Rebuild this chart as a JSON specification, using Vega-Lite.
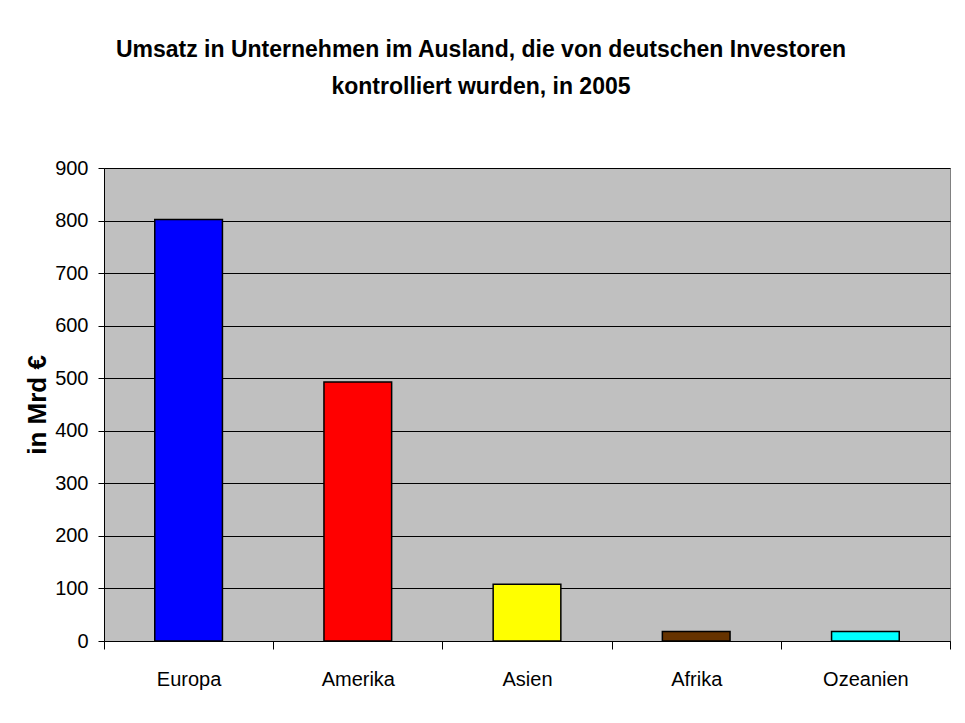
{
  "$schema": "https://vega.github.io/schema/vega-lite/v6.json",
  "width": 846,
  "height": 473,
  "autosize": {"type": "none"},
  "padding": {"left": 104, "top": 168, "right": 15, "bottom": 82},
  "background": "white",
  "title": {
    "text": ["Umsatz in Unternehmen im Ausland, die von deutschen Investoren", "kontrolliert wurden, in 2005"],
    "anchor": "middle",
    "dx": -46,
    "offset": 59,
    "fontSize": 23,
    "lineHeight": 37,
    "font": "Liberation Sans",
    "fontWeight": "bold",
    "color": "black"
  },
  "data": {
    "values": [
      {"Region": "Europa", "Umsatz": 802},
      {"Region": "Amerika", "Umsatz": 493},
      {"Region": "Asien", "Umsatz": 108},
      {"Region": "Afrika", "Umsatz": 18},
      {"Region": "Ozeanien", "Umsatz": 18}
    ]
  },
  "mark": {"type": "bar", "width": {"band": 0.4}, "stroke": "black", "strokeWidth": 1.5},
  "encoding": {
    "x": {
      "field": "Region",
      "type": "nominal",
      "sort": null,
      "scale": {"paddingInner": 0, "paddingOuter": 0},
      "axis": {
        "title": null,
        "labelAngle": 0,
        "tickBand": "extent",
        "tickSize": 8,
        "tickColor": "black",
        "domainColor": "black",
        "labelFontSize": 20,
        "labelFont": "Liberation Sans",
        "labelColor": "black",
        "labelPadding": 20,
        "labelBaseline": "top",
        "grid": false
      }
    },
    "y": {
      "field": "Umsatz",
      "type": "quantitative",
      "scale": {"domain": [0, 900], "nice": false},
      "axis": {
        "title": "in Mrd €",
        "titleFont": "Liberation Sans",
        "titleFontSize": 26,
        "titleFontWeight": "bold",
        "titleColor": "black",
        "titleAngle": -90,
        "titleX": -59,
        "titleBaseline": "alphabetic",
        "values": [0, 100, 200, 300, 400, 500, 600, 700, 800, 900],
        "tickSize": 6,
        "tickColor": "black",
        "domainColor": "black",
        "labelFontSize": 20,
        "labelFont": "Liberation Sans",
        "labelColor": "black",
        "labelPadding": 10,
        "grid": true,
        "gridColor": "black",
        "gridOpacity": 1,
        "gridWidth": 1
      }
    },
    "color": {
      "field": "Region",
      "type": "nominal",
      "scale": {
        "domain": ["Europa", "Amerika", "Asien", "Afrika", "Ozeanien"],
        "range": ["#0000FF", "#FF0000", "#FFFF00", "#663300", "#00FFFF"]
      },
      "legend": null
    }
  },
  "config": {
    "view": {"fill": "#C0C0C0", "stroke": "#808080", "strokeWidth": 1}
  }
}
